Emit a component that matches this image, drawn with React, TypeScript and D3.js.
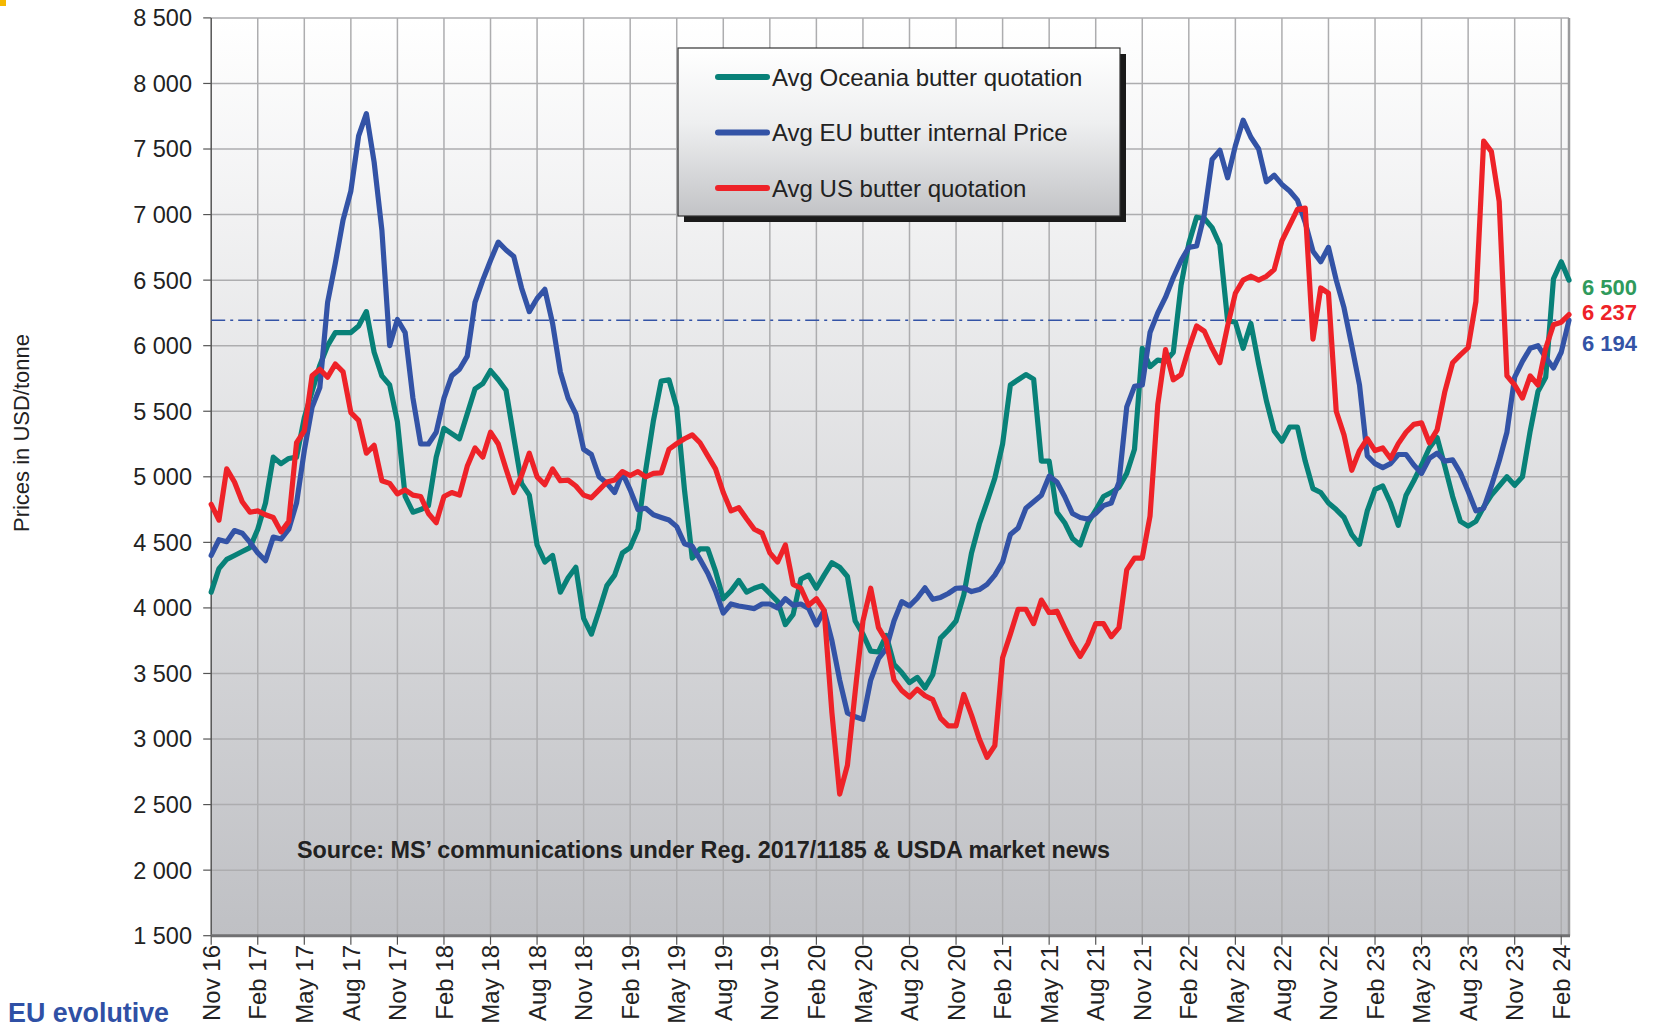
import * as d3 from "d3";

// half-monthly values, first point = Nov 2016
const oceania = [
  4120, 4300, 4370, 4400, 4430, 4460, 4600, 4800, 5150, 5100, 5140, 5150,
  5450, 5650, 5850, 6000, 6100, 6100, 6100, 6150, 6260, 5950, 5770, 5700,
  5420, 4850, 4730, 4750, 4780, 5150, 5370, 5330, 5290, 5480, 5670, 5710,
  5810, 5740, 5660, 5300, 4950, 4860, 4480, 4350, 4400, 4120, 4230, 4310,
  3920, 3800, 3980, 4170, 4250, 4420, 4460, 4600, 5050, 5430, 5730, 5740,
  5530, 4900, 4380, 4450, 4450, 4280, 4070, 4130, 4210, 4120, 4150, 4170,
  4110, 4050, 3873, 3950, 4220, 4250, 4150, 4250, 4345, 4310, 4240, 3900,
  3800, 3670, 3664, 3790, 3570, 3507, 3430, 3470, 3390, 3490, 3770, 3830,
  3900, 4100, 4420, 4640, 4810, 4990, 5250, 5700, 5740, 5780, 5745, 5120,
  5120, 4730, 4650, 4530, 4480, 4650, 4745, 4850, 4880, 4920, 5026, 5210,
  5980, 5840, 5890, 5880, 5950, 6460, 6780, 6980, 6970, 6900, 6770, 6190,
  6180, 5980, 6170, 5860, 5580, 5350, 5271, 5380, 5380, 5120, 4910, 4880,
  4800, 4750, 4690, 4560, 4485, 4740, 4904, 4930, 4800, 4630, 4860, 4970,
  5090, 5220, 5300, 5080, 4850, 4660, 4624, 4660, 4770, 4860, 4930, 5000,
  4935, 5000, 5350, 5650, 5760, 6510, 6640, 6500,
];

const euPrice = [
  4400, 4520, 4505, 4590, 4570, 4500, 4420, 4360, 4540, 4525, 4600, 4800,
  5200, 5530, 5680, 6330, 6630, 6960, 7180, 7600, 7770, 7400, 6880, 6000,
  6200, 6100, 5600, 5250, 5250, 5340, 5600, 5770, 5820, 5920, 6330, 6500,
  6650, 6790, 6730, 6680, 6440, 6260, 6360, 6430, 6170, 5800, 5600, 5480,
  5210, 5170, 5000, 4950, 4880, 5030, 4900, 4750, 4760, 4710, 4690, 4670,
  4620, 4490, 4470, 4370, 4265, 4130, 3960, 4030, 4015, 4005, 3995, 4030,
  4030, 4000, 4070, 4020, 4030, 3996, 3870, 3980, 3750, 3450, 3200, 3170,
  3150, 3450, 3612, 3690, 3900, 4048, 4015, 4075, 4153, 4066, 4080, 4110,
  4150, 4153, 4125, 4140, 4180, 4250, 4350, 4560, 4610, 4760, 4810, 4860,
  5005, 4960, 4850, 4720, 4690, 4677, 4720, 4780, 4800, 4960, 5533, 5690,
  5700, 6100, 6250, 6370, 6520, 6650, 6750, 6760, 7000, 7420, 7490, 7280,
  7525, 7720, 7590, 7500, 7250, 7300, 7230, 7180, 7110, 6940, 6720, 6640,
  6750, 6500, 6290, 6000, 5700, 5160, 5100, 5070, 5100, 5170, 5170, 5090,
  5026, 5140, 5180, 5120, 5130, 5030, 4890, 4740, 4760, 4930, 5120, 5340,
  5760, 5880, 5980, 6000, 5910, 5830, 5950, 6194,
];

const usPrice = [
  4790, 4670, 5060, 4960, 4810, 4730, 4740, 4710, 4690, 4580, 4660, 5260,
  5350, 5770, 5820, 5760, 5860, 5800, 5490, 5430, 5180, 5240, 4970, 4950,
  4870, 4900, 4860, 4850, 4720, 4650, 4850, 4880, 4860, 5080, 5220, 5150,
  5340, 5250, 5060, 4880, 5010, 5180, 5000, 4940, 5060, 4970, 4975, 4930,
  4860, 4840, 4900, 4960, 4975, 5040, 5010, 5040, 5000, 5026, 5030, 5210,
  5253, 5290, 5320, 5260, 5160, 5060, 4880, 4740, 4764, 4680, 4600, 4570,
  4420, 4350, 4480, 4180, 4150, 4020, 4070, 3980, 3200, 2580, 2800, 3360,
  3900, 4150, 3850, 3750, 3450, 3370, 3320, 3380, 3330, 3300, 3160, 3100,
  3100, 3340, 3180, 3000, 2860, 2950, 3620, 3800, 3990, 3990, 3880, 4060,
  3965, 3975, 3850, 3730, 3630, 3730, 3880, 3880, 3780, 3850, 4290, 4380,
  4380, 4700, 5550, 5970, 5740, 5780, 5980, 6150, 6110, 5980, 5870, 6150,
  6400, 6500, 6530, 6500, 6529, 6580, 6800, 6920, 7040, 7050, 6050, 6440,
  6400, 5500, 5320, 5050, 5200, 5290, 5200, 5220, 5140, 5253, 5340, 5400,
  5411, 5260, 5358, 5650, 5870, 5930, 5985, 6337, 7560, 7480, 7100, 5770,
  5700, 5600, 5770, 5700, 5980, 6160, 6179, 6237,
];

const quarterLabels = [
  "Nov 16", "Feb 17", "May 17", "Aug 17", "Nov 17", "Feb 18", "May 18", "Aug 18",
  "Nov 18", "Feb 19", "May 19", "Aug 19", "Nov 19", "Feb 20", "May 20", "Aug 20",
  "Nov 20", "Feb 21", "May 21", "Aug 21", "Nov 21", "Feb 22", "May 22", "Aug 22",
  "Nov 22", "Feb 23", "May 23", "Aug 23", "Nov 23", "Feb 24",
];

const yTicks = [1500, 2000, 2500, 3000, 3500, 4000, 4500, 5000, 5500, 6000, 6500, 7000, 7500, 8000, 8500];

const seriesNames = ["Avg Oceania butter quotation", "Avg EU butter internal Price", "Avg US butter quotation"];
const seriesColors = ["#088178", "#3353a6", "#ee2228"];
const labelColors = ["#2f9a5c", "#ee2228", "#3353a6"];
const lastValues = [6500, 6237, 6194];
const refValue = 6194;

const font = "'Liberation Sans', Arial, sans-serif";

export default function App() {
  const x = d3.scaleLinear().domain([0, 87.5]).range([211.2, 1569]);
  const y = d3.scaleLinear().domain([1500, 8500]).range([935.7, 17.9]);
  const line = d3.line<number>().x((_, i) => x(i * 0.5)).y((d) => y(d));
  const fmt = (v: number) => d3.format(",")(v).replace(",", " ");

  const [x0, x1] = x.range();
  const [yb, yt] = y.range();
  const series = [oceania, euPrice, usPrice];

  return (
    <svg width={1654} height={1032} style={{ position: "absolute", left: 0, top: 0, background: "#fff" }}>
      <defs>
        <linearGradient id="plotBg" x1="0" y1="0" x2="0" y2="1">
          <stop offset="0" stopColor="#ffffff" />
          <stop offset="1" stopColor="#bfc0c4" />
        </linearGradient>
        <linearGradient id="legBg" x1="0" y1="0" x2="0" y2="1">
          <stop offset="0" stopColor="#ffffff" />
          <stop offset="0.45" stopColor="#eeeff0" />
          <stop offset="1" stopColor="#c2c3c6" />
        </linearGradient>
      </defs>

      <rect x={0} y={0} width={6} height={6} fill="#f5b800" />

      {/* plot area */}
      <rect x={x0} y={yt} width={x1 - x0} height={yb - yt} fill="url(#plotBg)" />

      {yTicks.slice(1).map((t) => (
        <line key={t} x1={x0} x2={x1} y1={y(t)} y2={y(t)} stroke="#adadaf" strokeWidth={1.5} />
      ))}
      {quarterLabels.map((_, i) =>
        i === 0 ? null : (
          <line key={i} x1={x(i * 3)} x2={x(i * 3)} y1={yt} y2={yb} stroke="#adadaf" strokeWidth={1.5} />
        )
      )}
      <line x1={x1} x2={x1} y1={yt} y2={yb} stroke="#9a9a9c" strokeWidth={2.5} />

      {/* axes */}
      <line x1={x0} x2={x0} y1={yt} y2={yb} stroke="#555" strokeWidth={1.5} />
      {yTicks.map((t) => (
        <g key={t}>
          <line x1={x0 - 8} x2={x0} y1={y(t)} y2={y(t)} stroke="#555" strokeWidth={1.2} />
          <text x={192} y={y(t)} dy="0.36em" textAnchor="end" fontFamily={font} fontSize={23.5} fill="#222">
            {fmt(t)}
          </text>
        </g>
      ))}
      <line x1={x0} x2={x1 + 1} y1={yb} y2={yb} stroke="#707072" strokeWidth={3} />
      {quarterLabels.map((lab, i) => (
        <g key={lab}>
          <line x1={x(i * 3)} x2={x(i * 3)} y1={yb} y2={yb + 9} stroke="#555" strokeWidth={1.2} />
          <text
            transform={`translate(${x(i * 3)},945) rotate(-90)`}
            textAnchor="end"
            dy="0.36em"
            fontFamily={font}
            fontSize={24}
            fill="#222"
          >
            {lab}
          </text>
        </g>
      ))}

      <text
        transform="translate(21,433) rotate(-90)"
        textAnchor="middle"
        dy="0.36em"
        fontFamily={font}
        fontSize={22}
        fill="#222"
      >
        Prices in USD/tonne
      </text>

      {/* reference line at latest EU price */}
      <line x1={x0} x2={x1} y1={y(refValue)} y2={y(refValue)} stroke="#3353a6" strokeWidth={1.5} strokeDasharray="14,5,3,5" />

      {series.map((s, k) => (
        <path key={k} d={line(s) ?? ""} fill="none" stroke={seriesColors[k]} strokeWidth={5.2} strokeLinejoin="round" strokeLinecap="round" />
      ))}

      {/* last values */}
      {lastValues.map((v, k) => (
        <text key={k} x={1582} y={[287, 312, 343][k]} dy="0.36em" fontFamily={font} fontWeight="bold" fontSize={22} fill={labelColors[k]}>
          {fmt(v)}
        </text>
      ))}

      {/* legend */}
      <rect x={684} y={54} width={442} height={168} fill="#1a1a1a" />
      <rect x={678} y={48} width={442} height={168} fill="url(#legBg)" stroke="#333" strokeWidth={1.2} />
      {seriesNames.map((n, k) => (
        <g key={n}>
          <line x1={718} x2={767} y1={77 + k * 55.5} y2={77 + k * 55.5} stroke={seriesColors[k]} strokeWidth={6} strokeLinecap="round" />
          <text x={772} y={77 + k * 55.5} dy="0.36em" fontFamily={font} fontSize={24} fill="#222">
            {n}
          </text>
        </g>
      ))}

      <text
        x={297}
        y={858}
        fontFamily="'Liberation Sans Narrow', 'Arial Narrow', 'Liberation Sans', sans-serif"
        fontWeight="bold"
        fontSize={24}
        fill="#222"
        textLength={813}
        lengthAdjust="spacingAndGlyphs"
      >
        Source: MS’ communications under Reg. 2017/1185  &amp; USDA market news
      </text>

      <text
        x={8}
        y={1022}
        fontFamily="'Liberation Sans Narrow', 'Arial Narrow', 'Liberation Sans', sans-serif"
        fontWeight="bold"
        fontSize={27}
        fill="#2f50a5"
        textLength={161}
        lengthAdjust="spacingAndGlyphs"
      >
        EU evolutive
      </text>
    </svg>
  );
}
